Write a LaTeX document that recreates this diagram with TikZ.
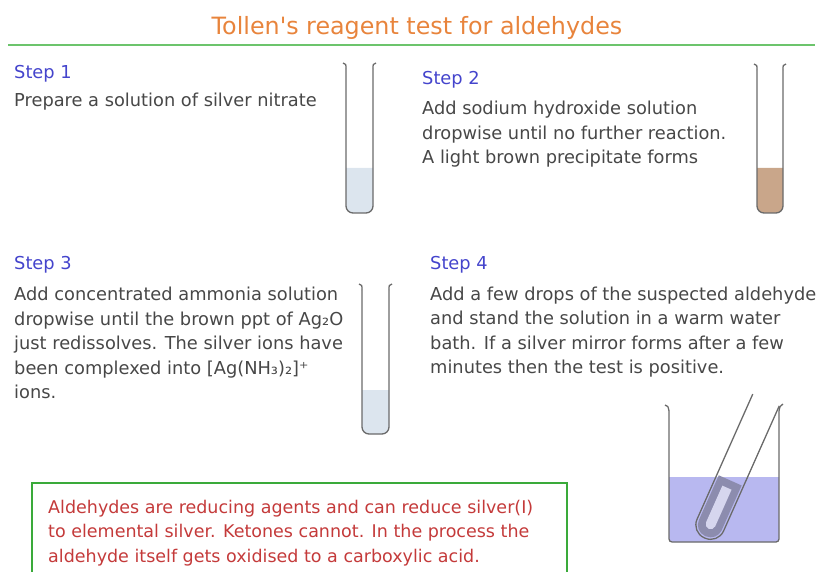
\documentclass[tikz,border=0pt]{standalone}
\usepackage{fontspec}
\setmainfont{DejaVu Sans}
\usepackage{tikz}
\usetikzlibrary{calc}

\definecolor{titleorange}{HTML}{E8843C}
\definecolor{rulegreen}{HTML}{6CC46C}
\definecolor{boxgreen}{HTML}{3AAA3A}
\definecolor{stepblue}{HTML}{4444CC}
\definecolor{bodygray}{HTML}{474747}
\definecolor{notered}{HTML}{C43A3A}
\definecolor{glassgray}{HTML}{6A6A6A}
\definecolor{nitrate}{HTML}{DCE5EE}
\definecolor{precip}{HTML}{C9A68A}
\definecolor{bath}{HTML}{B8B8F0}
\definecolor{mirror}{HTML}{8C8CAE}
\definecolor{hollow}{HTML}{D6D6EE}

% multi-line nodes sit on the baseline of their last line
\tikzset{
  steptitle/.style={anchor=base west, inner sep=0pt, text=stepblue,
    font=\fontsize{17.8}{24.5}\selectfont},
  steptext/.style={anchor=base west, inner sep=0pt, text=bodygray, align=left,
    font=\fontsize{17.8}{24.5}\selectfont},
  glass/.style={draw=glassgray, line width=1.3pt},
}

% test tube: left, right, top, bottom, liquid level, liquid colour
\newcommand{\testtube}[6]{%
  \fill[#6, rounded corners=7] (#1,#5) -- (#1,#4) -- (#2,#4) -- (#2,#5);
  \draw[glass, rounded corners=7] (#1,#3+6) -- (#1,#4) -- (#2,#4) -- (#2,#3+6);
  \draw[glass] (#1-3,#3) .. controls (#1,#3+1) .. (#1,#3+6);
  \draw[glass] (#2+3,#3) .. controls (#2,#3+1) .. (#2,#3+6);
}

\begin{document}
\begin{tikzpicture}[x=1pt,y=-1pt]
\useasboundingbox (0,0) rectangle (817,572);

%heading
\node[anchor=base, inner sep=0pt, text=titleorange, font=\fontsize{23.8}{28}\selectfont]
  (title) at (417,35) {Tollen\textquotesingle s reagent test for aldehydes};
\coordinate (ruleL) at (8,45);
\coordinate (ruleR) at (815,45);
\draw[rulegreen, line width=1.5pt] (ruleL) -- (ruleR);

%step 1
\node[steptitle] (s1) at (14,79) {Step 1};
\node[steptext] (t1) at (14,107) {Prepare a solution of silver nitrate};
\testtube{346}{373}{63}{213}{168}{nitrate}

%step 2
\node[steptitle] (s2) at (422,85) {Step 2};
\node[steptext] (t2) at (422,164) {Add sodium hydroxide solution\\
  dropwise until no further reaction.\\
  A light brown precipitate forms};
\testtube{757}{783}{64}{213}{168}{precip}

%step 3
\node[steptitle] (s3) at (14,270) {Step 3};
\node[steptext] (t3) at (14,398.5) {Add concentrated ammonia solution\\
  dropwise until the brown ppt of Ag₂O\\
  just redissolves. The silver ions have\\
  been complexed into [Ag(NH₃)₂]⁺\\
  ions.};
\testtube{362}{389}{284}{434}{390}{nitrate}

%step 4
\node[steptitle] (s4) at (430,270) {Step 4};
\node[steptext] (t4) at (430,373.5) {Add a few drops of the suspected aldehyde\\
  and stand the solution in a warm water\\
  bath. If a silver mirror forms after a few\\
  minutes then the test is positive.};

%water bath
\fill[bath, rounded corners=3] (669,477) -- (669,542) -- (779,542) -- (779,477);

%tube with the silver mirror
\begin{scope}[shift={(766,400)}, rotate=-24]
  \fill[mirror, rounded corners=12] (-12.5,88) -- (-12.5,149) -- (12.5,149) -- (12.5,88);
  \fill[hollow, rounded corners=5] (-5,96) -- (-5,141) -- (5,141) -- (5,96);
  \draw[glass, rounded corners=14] (-14.5,0) -- (-14.5,151) -- (14.5,151) -- (14.5,0);
\end{scope}

%beaker
\draw[glass] (665,405) .. controls (668,406) .. (669,411) [rounded corners=3]
  -- (669,542) -- (779,542) [sharp corners] -- (779,411) .. controls (780,406) .. (783,404);

%note box
\draw[boxgreen, line width=1.6pt] (32,483) rectangle (567,590);
\node[steptext, text=notered, font=\fontsize{17.5}{24.5}\selectfont] (note) at (48,562)
  {Aldehydes are reducing agents and can reduce silver(I)\\
  to elemental silver. Ketones cannot. In the process the\\
  aldehyde itself gets oxidised to a carboxylic acid.};

\end{tikzpicture}
\end{document}
